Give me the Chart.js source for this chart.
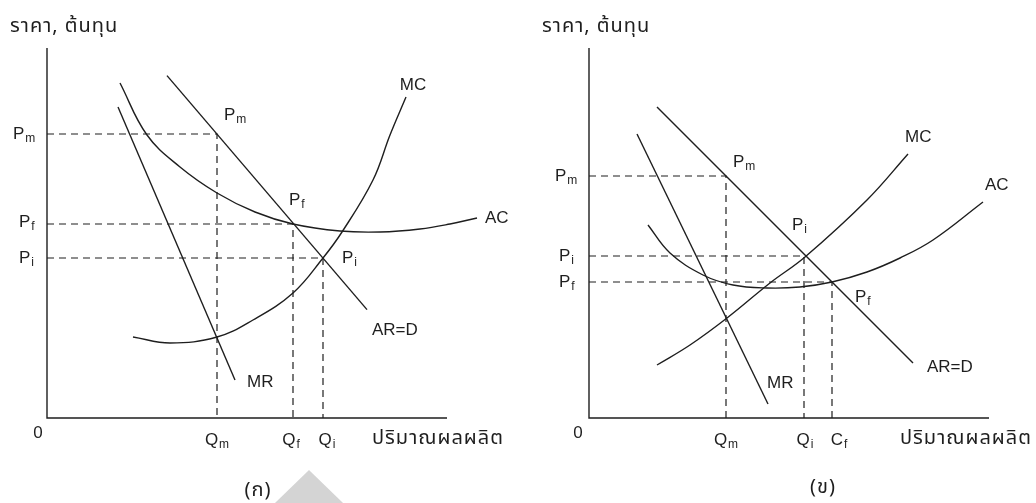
<!DOCTYPE html>
<html lang="th">

<head>
    <meta charset="UTF-8">
    <title>Monopoly pricing</title>
    <script src="https://cdn.jsdelivr.net/npm/chart.js"></script>
    <style>
        html,
        body {
            margin: 0;
            padding: 0;
            background-color: #fff;
        }

        #wrap {
            position: relative;
            width: 1036px;
            height: 503px;
        }

        .panel {
            position: absolute;
            top: 0;
            width: 518px;
            height: 503px;
        }

        #panelA {
            left: 0;
        }

        #panelB {
            left: 518px;
        }
    </style>
</head>

<body>
    <div id="wrap">
        <div class="panel" id="panelA"><canvas id="chartA"></canvas></div>
        <div class="panel" id="panelB"><canvas id="chartB"></canvas></div>
    </div>

    <script>
        // ---- panel (ก) ----
        const aAxes = [[0, 92.5], [0, 0], [100, 0]];
        const aDemand = [[30, 85.6], [80, 27.1]];
        const aMR = [[17.75, 77.75], [47, 9.5]];
        const aAC = [[18.25, 83.75], [25, 70.75], [33.25, 62.75], [42.5, 56.25], [52, 51.5], [61.5, 48.5],
            [73.25, 46.75], [83.25, 46.5], [93.25, 47.25], [100.75, 48.5], [107.5, 50]];
        const aMC = [[21.5, 20.25], [30.75, 18.75], [42.5, 20.25], [51.5, 24.5], [61.5, 31.25], [69, 40],
            [73.75, 46.5], [81.5, 59.5], [85.75, 70.75], [89.75, 80.25]];
        const aPm = [[0, 71], [42.5, 71], [42.5, 0]];
        const aPf = [[0, 48.5], [61.5, 48.5], [61.5, 0]];
        const aPi = [[0, 40], [69, 40], [69, 0]];
        const aMark = [[57, -21.25], [65.5, -13], [74, -21.25]];

        // ---- panel (ข) ----
        const bAxes = [[0, 92.5], [0, 0], [100, 0]];
        const bDemand = [[17, 77.75], [81, 13.75]];
        const bMR = [[12, 71], [44.75, 3.5]];
        const bAC = [[14.75, 48.25], [20.25, 41.25], [28.5, 35.75], [36, 33.25], [44.5, 32.5], [52.75, 32.75],
            [60.75, 34], [69.5, 36.5], [77.75, 40], [86, 44.5], [98.5, 54]];
        const bMC = [[17, 13.25], [25.25, 18.25], [34.5, 25], [45.25, 33.75], [54, 40.25], [69.5, 54.5], [79.75, 66]];
        const bPm = [[0, 60.5], [34.25, 60.5], [34.25, 0]];
        const bPi = [[0, 40.5], [53.75, 40.5], [53.75, 0]];
        const bPf = [[0, 34], [60.75, 34], [60.75, 0]];

        const yLabel = 'ราคา, ต้นทุน';
        const xLabel = 'ปริมาณผลผลิต';

        // text annotations, anchored in data units
        const aNotes = [
            { t: yLabel, x: -9.25, y: 97.5, thai: true },
            { t: 'MC', x: 91.5, y: 83.25, c: true },
            { t: 'P', s: 'm', x: 44.25, y: 75.75 },
            { t: 'P', s: 'f', x: 60.5, y: 54.5 },
            { t: 'AC', x: 109.5, y: 50 },
            { t: 'P', s: 'i', x: 73.75, y: 40 },
            { t: 'AR=D', x: 81.25, y: 22 },
            { t: 'MR', x: 50, y: 9 },
            { t: 'P', s: 'm', x: -8.5, y: 71 },
            { t: 'P', s: 'f', x: -7, y: 49 },
            { t: 'P', s: 'i', x: -7, y: 40 },
            { t: '0', x: -2.25, y: -3.75, c: true },
            { t: 'Q', s: 'm', x: 42.5, y: -5.5, c: true },
            { t: 'Q', s: 'f', x: 61, y: -5.5, c: true },
            { t: 'Q', s: 'i', x: 70, y: -5.5, c: true },
            { t: xLabel, x: 81.25, y: -5.5, thai: true },
            { t: '(ก)', x: 52.75, y: -18.5, c: true, thai: true }
        ];
        const bNotes = [
            { t: yLabel, x: -11.75, y: 97.5, thai: true },
            { t: 'MC', x: 79, y: 70.25 },
            { t: 'AC', x: 99, y: 58.25 },
            { t: 'P', s: 'm', x: 36, y: 64 },
            { t: 'P', s: 'i', x: 50.75, y: 48.25 },
            { t: 'P', s: 'f', x: 66.5, y: 30.25 },
            { t: 'AR=D', x: 84.5, y: 12.75 },
            { t: 'MR', x: 44.5, y: 8.75 },
            { t: 'P', s: 'm', x: -8.5, y: 60.5 },
            { t: 'P', s: 'i', x: -7.5, y: 40.5 },
            { t: 'P', s: 'f', x: -7.5, y: 34 },
            { t: '0', x: -2.75, y: -3.75, c: true },
            { t: 'Q', s: 'm', x: 34.25, y: -5.5, c: true },
            { t: 'Q', s: 'i', x: 54, y: -5.5, c: true },
            { t: 'C', s: 'f', x: 62.5, y: -5.5, c: true },
            { t: xLabel, x: 77.75, y: -5.5, thai: true },
            { t: '(ข)', x: 58.5, y: -17.75, c: true, thai: true }
        ];

        const ink = '#1e1e1e';
        const latin = '"Liberation Sans", Arial, sans-serif';
        const thaiFont = '"Noto Sans Thai", Loma, Garuda, Norasi, "Tlwg Typo", "DejaVu Sans", sans-serif';

        function pts(arr) {
            return arr.map(p => ({ x: p[0], y: p[1] }));
        }

        function solid(arr, curved) {
            return {
                data: pts(arr), showLine: true, borderColor: ink, borderWidth: 1.4,
                pointRadius: 0, fill: false, tension: curved ? 0.4 : 0
            };
        }

        function dashed(arr) {
            return {
                data: pts(arr), showLine: true, borderColor: ink, borderWidth: 1.2,
                borderDash: [7, 5], pointRadius: 0, fill: false
            };
        }

        const notePlugin = {
            id: 'notes',
            afterDatasetsDraw(chart, args, opts) {
                const ctx = chart.ctx;
                const xs = chart.scales.x, ys = chart.scales.y;
                ctx.save();
                ctx.fillStyle = ink;
                ctx.textBaseline = 'middle';
                ctx.textAlign = 'left';
                opts.items.forEach(n => {
                    const px = xs.getPixelForValue(n.x);
                    const py = ys.getPixelForValue(n.y);
                    const mainFont = n.thai ? '20px ' + thaiFont : '17px ' + latin;
                    ctx.letterSpacing = n.thai ? '1px' : '0px';
                    ctx.font = mainFont;
                    const w1 = ctx.measureText(n.t).width;
                    let w2 = 0;
                    if (n.s) {
                        ctx.letterSpacing = '0px';
                        ctx.font = '12px ' + latin;
                        w2 = ctx.measureText(n.s).width + 1;
                    }
                    const x0 = n.c ? px - (w1 + w2) / 2 : px;
                    ctx.letterSpacing = n.thai ? '1px' : '0px';
                    ctx.font = mainFont;
                    ctx.fillText(n.t, x0, py);
                    if (n.s) {
                        ctx.letterSpacing = '0px';
                        ctx.font = '12px ' + latin;
                        ctx.fillText(n.s, x0 + w1 + 1, py + 5);
                    }
                });
                ctx.restore();
            }
        };

        function makeChart(id, sets, notes, xMin, xMax) {
            return new Chart(document.getElementById(id), {
                type: 'scatter',
                data: { datasets: sets },
                options: {
                    responsive: true,
                    maintainAspectRatio: false,
                    animation: false,
                    layout: { padding: 0 },
                    scales: {
                        x: { type: 'linear', min: xMin, max: xMax, display: false },
                        y: { type: 'linear', min: -21.25, max: 104.5, display: false }
                    },
                    plugins: {
                        legend: { display: false },
                        tooltip: { enabled: false },
                        notes: { items: notes }
                    }
                },
                plugins: [notePlugin]
            });
        }

        const markSet = {
            data: pts(aMark), showLine: true, borderWidth: 0, borderColor: 'rgba(0,0,0,0)',
            backgroundColor: '#d4d4d4', fill: 'shape', pointRadius: 0
        };

        makeChart('chartA', [
            markSet,
            solid(aAxes, false),
            dashed(aPm), dashed(aPf), dashed(aPi),
            solid(aDemand, false), solid(aMR, false),
            solid(aAC, true), solid(aMC, true)
        ], aNotes, -11.75, 117.75);

        makeChart('chartB', [
            solid(bAxes, false),
            dashed(bPm), dashed(bPi), dashed(bPf),
            solid(bDemand, false), solid(bMR, false),
            solid(bAC, true), solid(bMC, true)
        ], bNotes, -17.75, 111.75);
    </script>
</body>

</html>
